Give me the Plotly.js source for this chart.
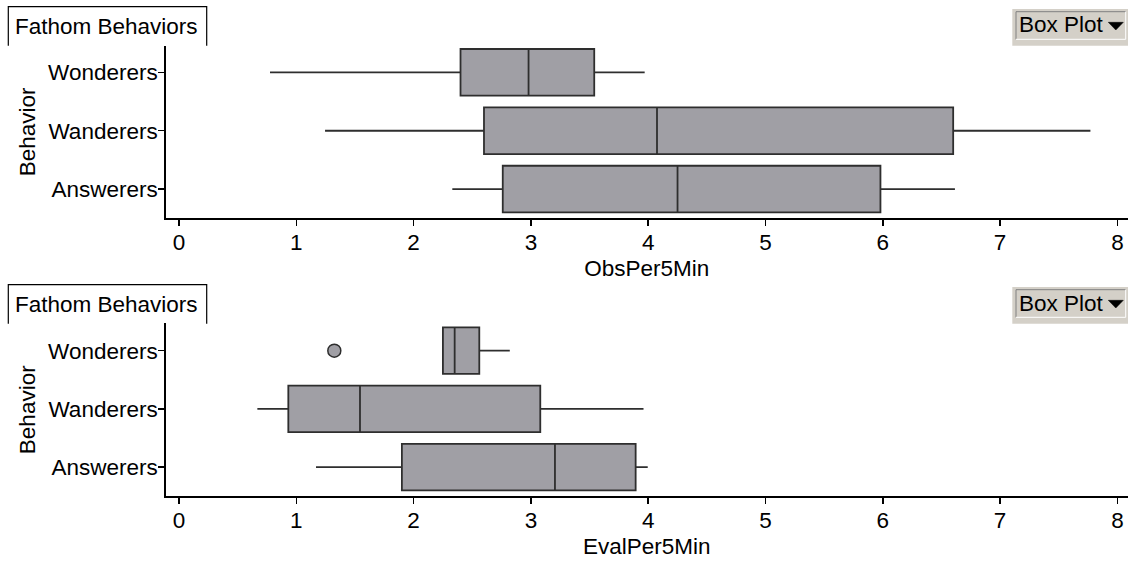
<!DOCTYPE html>
<html>
<head>
<meta charset="utf-8">
<script src="https://cdn.plot.ly/plotly-3.0.1.min.js"></script>
<style>html,body{margin:0;padding:0;background:#fff;}#chart{width:1128px;height:561px;}</style>
</head>
<body>
<div id="chart"></div>
<script>
// ---- data ----
const categories = ['Answerers', 'Wanderers', 'Wonderers'];
// ObsPer5Min
const obsLower  = [2.33, 1.245, 0.776];
const obsQ1     = [2.76, 2.60, 2.40];
const obsMedian = [4.25, 4.075, 2.98];
const obsQ3     = [5.98, 6.60, 3.54];
const obsUpper  = [6.615, 7.77, 3.97];
// EvalPer5Min
const evalLower  = [1.168, 0.668, 2.25];
const evalQ1     = [1.90, 0.932, 2.25];
const evalMedian = [3.205, 1.543, 2.35];
const evalQ3     = [3.893, 3.08, 2.56];
const evalUpper  = [3.996, 3.96, 2.82];
const evalOutlierX = [1.324];
const evalOutlierY = ['Wonderers'];
const xTicks = [0, 1, 2, 3, 4, 5, 6, 7, 8];

// ---- helpers (pixel -> paper) ----
const W = 1128, H = 561;
const px = x => x / W;
const py = y => 1 - y / H;

const FONT = 'Arial, "Liberation Sans", sans-serif';
const FS = 22.5;
const boxFill = '#a09fa5';
const boxLine = '#2e2e2e';

function boxTrace(lo, q1, med, q3, hi, xa, ya) {
  return {
    type: 'box', orientation: 'h',
    y: categories, q1: q1, median: med, q3: q3,
    lowerfence: lo, upperfence: hi,
    width: 0.8, whiskerwidth: 0,
    fillcolor: boxFill,
    line: { color: boxLine, width: 1.8 },
    boxpoints: false,
    xaxis: xa, yaxis: ya,
    showlegend: false, hoverinfo: 'x'
  };
}

const traces = [
  boxTrace(obsLower, obsQ1, obsMedian, obsQ3, obsUpper, 'x', 'y'),
  boxTrace(evalLower, evalQ1, evalMedian, evalQ3, evalUpper, 'x2', 'y2'),
  {
    type: 'scatter', mode: 'markers',
    x: evalOutlierX, y: evalOutlierY,
    xaxis: 'x2', yaxis: 'y2',
    marker: { size: 13, color: boxFill, line: { color: boxLine, width: 1.5 } },
    showlegend: false
  }
];

const xRange = [(165.7 - 179) / 117.3, (1128 - 179) / 117.3];

function xaxis(title, anchor) {
  return {
    domain: [px(165.7), 1],
    range: xRange,
    anchor: anchor,
    tickvals: xTicks,
    ticktext: xTicks.map(String),
    ticks: 'outside', ticklen: 6, tickwidth: 1.5, tickcolor: '#000',
    ticklabelstandoff: -3,
    showline: true, linecolor: '#000', linewidth: 1.5,
    showgrid: false, zeroline: false,
    tickfont: { family: FONT, size: FS, color: '#000' },
    title: { text: title, font: { family: FONT, size: FS, color: '#000' }, standoff: 6 },
    fixedrange: true
  };
}
function yaxis(domain, anchor, range) {
  return {
    domain: domain,
    anchor: anchor,
    type: 'category',
    categoryorder: 'array', categoryarray: categories,
    range: range,
    ticks: 'outside', ticklen: 6, tickwidth: 1.5, tickcolor: '#000',
    ticklabelstandoff: -4,
    showline: true, linecolor: '#000', linewidth: 1.5,
    showgrid: false, zeroline: false,
    tickfont: { family: FONT, size: FS, color: '#000' },
    title: { text: 'Behavior', font: { family: FONT, size: FS, color: '#000' }, standoff: 6 },
    fixedrange: true
  };
}

// decorative panels
function panelShapes(dy) {
  const s = [];
  s.push({ type: 'path', xref: 'paper', yref: 'paper',
    path: `M ${px(8.3)} ${py(45.7 + dy)} L ${px(8.3)} ${py(6.7 + dy)} L ${px(206.7)} ${py(6.7 + dy)} L ${px(206.7)} ${py(45.7 + dy)}`,
    line: { color: '#000', width: 1.2 } });
  s.push({ type: 'rect', xref: 'paper', yref: 'paper',
    x0: px(1012.3), x1: px(1128), y0: py(45.7 + dy), y1: py(9 + dy),
    fillcolor: '#d4d0c8', line: { width: 0 } });
  s.push({ type: 'path', xref: 'paper', yref: 'paper',
    path: `M ${px(1016)} ${py(39.3 + dy)} L ${px(1016)} ${py(11.7 + dy)} L ${px(1125.7)} ${py(11.7 + dy)}`,
    line: { color: '#808080', width: 1 } });
  s.push({ type: 'path', xref: 'paper', yref: 'paper',
    path: `M ${px(1016)} ${py(39.3 + dy)} L ${px(1125.7)} ${py(39.3 + dy)} L ${px(1125.7)} ${py(11.7 + dy)}`,
    line: { color: '#ffffff', width: 1 } });
  s.push({ type: 'path', xref: 'paper', yref: 'paper',
    path: `M ${px(1108.3)} ${py(22.3 + dy)} L ${px(1123.3)} ${py(22.3 + dy)} L ${px(1115.8)} ${py(30 + dy)} Z`,
    fillcolor: '#000', line: { color: '#000', width: 0.5 } });
  return s;
}
function panelAnnotations(dy) {
  return [
    { xref: 'paper', yref: 'paper', x: px(13), y: py(26 + dy), xanchor: 'left', yanchor: 'middle',
      text: 'Fathom Behaviors', showarrow: false, font: { family: FONT, size: FS, color: '#000' } },
    { xref: 'paper', yref: 'paper', x: px(1017), y: py(25 + dy), xanchor: 'left', yanchor: 'middle',
      text: 'Box Plot', showarrow: false, font: { family: FONT, size: FS, color: '#000' } }
  ];
}

const layout = {
  width: W, height: H,
  margin: { l: 0, r: 0, t: 0, b: 0 },
  paper_bgcolor: '#fff', plot_bgcolor: '#fff',
  showlegend: false,
  xaxis: xaxis('ObsPer5Min', 'y'),
  yaxis: yaxis([py(218.3), py(45.5)], 'x', [-0.5, 2.46]),
  xaxis2: xaxis('EvalPer5Min', 'y2'),
  yaxis2: yaxis([py(496.2), py(323.3)], 'x2', [-0.5, 2.47]),
  shapes: panelShapes(0).concat(panelShapes(278)),
  annotations: panelAnnotations(0).concat(panelAnnotations(278))
};

Plotly.newPlot('chart', traces, layout, { displayModeBar: false, staticPlot: true });
</script>
</body>
</html>
